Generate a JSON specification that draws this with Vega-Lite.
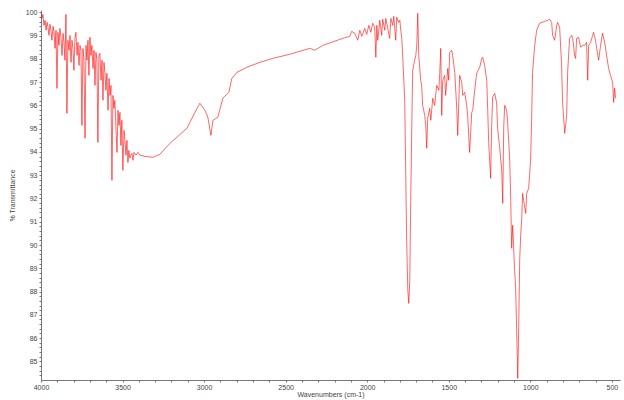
{
  "$schema": "https://vega.github.io/schema/vega-lite/v6.json",
  "autosize": "none",
  "width": 579,
  "height": 370,
  "padding": {"left": 41, "top": 10, "right": 4, "bottom": 20},
  "background": "white",
  "config": {
    "view": {"stroke": null},
    "font": "Liberation Sans",
    "axis": {"grid": false, "domainColor": "#777", "tickColor": "#777", "labelColor": "#444", "titleColor": "#444", "labelFont": "Liberation Sans", "titleFont": "Liberation Sans", "labelFontSize": 7, "titleFontSize": 7, "titleFontWeight": "normal", "tickSize": 2, "labelPadding": 2}
  },
  "data": {"values": [
    {"wn":4000,"t":100.00},{"wn":3994,"t":99.74},{"wn":3988,"t":99.91},{"wn":3982,"t":99.44},{"wn":3975,"t":99.66},{"wn":3969,"t":99.23},{"wn":3963,"t":99.57},{"wn":3957,"t":99.36},{"wn":3951,"t":99.01},{"wn":3945,"t":99.49},{"wn":3939,"t":99.23},{"wn":3933,"t":98.80},{"wn":3926,"t":99.40},{"wn":3920,"t":99.10},{"wn":3914,"t":98.45},{"wn":3908,"t":99.23},{"wn":3902,"t":96.73},{"wn":3896,"t":99.14},{"wn":3890,"t":98.58},{"wn":3884,"t":99.31},{"wn":3877,"t":98.88},{"wn":3871,"t":98.15},{"wn":3865,"t":99.10},{"wn":3859,"t":98.71},{"wn":3853,"t":97.94},{"wn":3847,"t":99.91},{"wn":3841,"t":95.66},{"wn":3835,"t":98.80},{"wn":3828,"t":98.37},{"wn":3822,"t":99.01},{"wn":3816,"t":97.85},{"wn":3810,"t":98.80},{"wn":3804,"t":98.45},{"wn":3798,"t":97.51},{"wn":3792,"t":98.88},{"wn":3786,"t":99.14},{"wn":3779,"t":98.15},{"wn":3773,"t":98.71},{"wn":3767,"t":97.72},{"wn":3761,"t":98.58},{"wn":3755,"t":98.37},{"wn":3749,"t":95.14},{"wn":3743,"t":98.45},{"wn":3737,"t":98.02},{"wn":3730,"t":94.59},{"wn":3724,"t":98.58},{"wn":3718,"t":97.94},{"wn":3712,"t":98.80},{"wn":3706,"t":97.29},{"wn":3700,"t":98.93},{"wn":3694,"t":98.15},{"wn":3688,"t":98.58},{"wn":3681,"t":97.59},{"wn":3675,"t":98.37},{"wn":3669,"t":96.86},{"wn":3663,"t":98.28},{"wn":3657,"t":97.94},{"wn":3651,"t":94.41},{"wn":3645,"t":98.15},{"wn":3639,"t":98.24},{"wn":3632,"t":97.08},{"wn":3626,"t":97.94},{"wn":3620,"t":96.22},{"wn":3614,"t":97.85},{"wn":3608,"t":97.42},{"wn":3602,"t":96.65},{"wn":3596,"t":97.38},{"wn":3589,"t":95.79},{"wn":3583,"t":97.16},{"wn":3577,"t":96.43},{"wn":3571,"t":96.86},{"wn":3565,"t":92.78},{"wn":3559,"t":96.43},{"wn":3553,"t":95.87},{"wn":3547,"t":96.22},{"wn":3540,"t":94.93},{"wn":3534,"t":93.98},{"wn":3528,"t":95.79},{"wn":3522,"t":95.14},{"wn":3516,"t":95.70},{"wn":3510,"t":94.28},{"wn":3504,"t":95.36},{"wn":3498,"t":93.21},{"wn":3491,"t":94.93},{"wn":3485,"t":94.50},{"wn":3479,"t":93.86},{"wn":3473,"t":94.50},{"wn":3467,"t":93.55},{"wn":3461,"t":94.07},{"wn":3455,"t":93.73},{"wn":3449,"t":93.86},{"wn":3442,"t":93.94},{"wn":3436,"t":93.64},{"wn":3430,"t":93.98},{"wn":3418,"t":93.86},{"wn":3406,"t":93.98},{"wn":3393,"t":93.86},
    {"wn":3363,"t":93.81},{"wn":3314,"t":93.77},{"wn":3271,"t":93.90},{"wn":3210,"t":94.37},{"wn":3167,"t":94.63},{"wn":3105,"t":95.02},{"wn":3056,"t":95.70},{"wn":3026,"t":96.09},{"wn":2995,"t":95.79},{"wn":2977,"t":95.49},{"wn":2958,"t":94.71},{"wn":2946,"t":95.36},{"wn":2916,"t":95.49},{"wn":2885,"t":96.31},{"wn":2848,"t":96.56},{"wn":2830,"t":97.16},{"wn":2799,"t":97.42},{"wn":2738,"t":97.64},{"wn":2658,"t":97.85},{"wn":2579,"t":98.02},{"wn":2474,"t":98.20},{"wn":2352,"t":98.45},{"wn":2321,"t":98.37},{"wn":2272,"t":98.58},{"wn":2150,"t":98.88},
    {"wn":2107,"t":98.97},{"wn":2095,"t":99.18},{"wn":2076,"t":99.10},{"wn":2058,"t":98.80},{"wn":2045,"t":99.23},{"wn":2033,"t":98.97},{"wn":2015,"t":99.31},{"wn":2003,"t":99.05},{"wn":1990,"t":99.44},{"wn":1978,"t":99.14},{"wn":1966,"t":99.53},{"wn":1954,"t":99.36},{"wn":1947,"t":98.07},{"wn":1941,"t":99.44},{"wn":1935,"t":98.80},{"wn":1923,"t":99.66},{"wn":1911,"t":99.01},{"wn":1905,"t":99.70},{"wn":1892,"t":99.23},{"wn":1886,"t":99.74},{"wn":1874,"t":99.31},{"wn":1862,"t":98.88},{"wn":1855,"t":99.74},{"wn":1843,"t":99.44},{"wn":1837,"t":99.83},{"wn":1825,"t":98.80},{"wn":1819,"t":99.79},{"wn":1807,"t":99.57},{"wn":1800,"t":99.66},{"wn":1794,"t":99.23},{"wn":1788,"t":98.88},{"wn":1782,"t":98.07},{"wn":1770,"t":96.22},{"wn":1764,"t":93.21},{"wn":1758,"t":90.20},{"wn":1751,"t":88.05},{"wn":1745,"t":87.49},{"wn":1739,"t":88.48},{"wn":1733,"t":91.92},{"wn":1727,"t":94.93},{"wn":1721,"t":97.51},{"wn":1709,"t":97.94},{"wn":1702,"t":98.15},{"wn":1696,"t":98.58},{"wn":1690,"t":99.96},{"wn":1684,"t":98.15},{"wn":1672,"t":97.08},{"wn":1666,"t":96.86},{"wn":1660,"t":96.00},{"wn":1647,"t":95.57},{"wn":1641,"t":95.14},{"wn":1635,"t":94.16},{"wn":1629,"t":95.45},{"wn":1617,"t":95.87},{"wn":1610,"t":95.36},{"wn":1598,"t":96.31},{"wn":1586,"t":96.00},{"wn":1574,"t":96.86},{"wn":1561,"t":96.65},{"wn":1555,"t":97.42},{"wn":1549,"t":98.45},{"wn":1543,"t":95.57},{"wn":1537,"t":97.08},{"wn":1525,"t":97.29},{"wn":1519,"t":96.43},{"wn":1506,"t":97.59},{"wn":1500,"t":97.08},{"wn":1494,"t":98.28},{"wn":1482,"t":98.37},{"wn":1476,"t":98.15},{"wn":1463,"t":97.42},{"wn":1451,"t":95.87},{"wn":1445,"t":94.71},{"wn":1433,"t":97.29},{"wn":1420,"t":96.99},{"wn":1414,"t":96.43},{"wn":1402,"t":96.56},{"wn":1390,"t":96.00},{"wn":1384,"t":95.57},{"wn":1372,"t":93.98},{"wn":1359,"t":95.70},{"wn":1353,"t":95.79},{"wn":1341,"t":96.65},{"wn":1329,"t":97.38},{"wn":1310,"t":97.64},{"wn":1298,"t":98.02},{"wn":1292,"t":98.07},{"wn":1280,"t":97.72},{"wn":1267,"t":97.08},{"wn":1261,"t":95.79},{"wn":1255,"t":94.37},{"wn":1243,"t":92.87},{"wn":1237,"t":95.06},{"wn":1231,"t":96.35},{"wn":1218,"t":96.52},{"wn":1206,"t":96.09},{"wn":1201,"t":95.06},{"wn":1188,"t":94.20},{"wn":1175,"t":93.21},{"wn":1169,"t":91.79},{"wn":1163,"t":95.06},{"wn":1157,"t":96.00},{"wn":1145,"t":95.79},{"wn":1139,"t":95.27},{"wn":1126,"t":93.64},{"wn":1120,"t":91.92},{"wn":1114,"t":89.86},{"wn":1108,"t":90.85},{"wn":1102,"t":89.90},{"wn":1096,"t":88.91},{"wn":1090,"t":88.18},{"wn":1084,"t":86.47},{"wn":1077,"t":84.27},{"wn":1071,"t":86.47},{"wn":1065,"t":89.34},{"wn":1059,"t":90.41},{"wn":1053,"t":91.06},{"wn":1047,"t":92.22},{"wn":1041,"t":91.92},{"wn":1028,"t":91.36},{"wn":1022,"t":92.22},{"wn":1010,"t":92.44},{"wn":998,"t":93.64},{"wn":992,"t":95.36},{"wn":986,"t":97.42},{"wn":973,"t":98.58},{"wn":961,"t":99.23},{"wn":943,"t":99.53},{"wn":912,"t":99.61},{"wn":881,"t":99.70},{"wn":869,"t":99.57},{"wn":863,"t":99.01},{"wn":851,"t":98.80},{"wn":838,"t":99.44},{"wn":832,"t":99.57},{"wn":820,"t":99.36},{"wn":808,"t":97.72},{"wn":802,"t":96.13},{"wn":789,"t":94.80},{"wn":777,"t":95.57},{"wn":771,"t":97.42},{"wn":759,"t":98.88},{"wn":746,"t":99.01},{"wn":740,"t":98.88},{"wn":728,"t":98.15},{"wn":722,"t":98.02},{"wn":716,"t":98.88},{"wn":704,"t":98.93},{"wn":691,"t":98.50},{"wn":679,"t":98.58},{"wn":667,"t":98.58},{"wn":655,"t":98.71},{"wn":648,"t":97.08},{"wn":642,"t":98.58},{"wn":630,"t":98.71},{"wn":618,"t":99.01},{"wn":612,"t":99.14},{"wn":600,"t":98.80},{"wn":593,"t":98.45},{"wn":581,"t":97.94},{"wn":569,"t":98.58},{"wn":557,"t":99.10},{"wn":544,"t":98.71},{"wn":532,"t":98.15},{"wn":520,"t":97.59},{"wn":508,"t":97.29},{"wn":495,"t":96.99},{"wn":489,"t":96.13},{"wn":483,"t":96.74},{"wn":477,"t":96.31}
  ]},
  "mark": {"type": "line", "color": "#ff0000", "strokeWidth": 0.7, "opacity": 0.85, "clip": true},
  "encoding": {
    "x": {"field": "wn", "type": "quantitative", "title": "Wavenumbers (cm-1)",
      "scale": {"domain": [4000, 450], "nice": false, "zero": false},
      "axis": {"values": [4000,3900,3800,3700,3600,3500,3400,3300,3200,3100,3000,2900,2800,2700,2600,2500,2400,2300,2200,2100,2000,1900,1800,1700,1600,1500,1400,1300,1200,1100,1000,900,800,700,600,500],
        "labelExpr": "datum.value % 500 == 0 ? format(datum.value, 'd') : ''", "labelOverlap": false, "labelFlush": false, "labelPadding": 1, "titlePadding": 0}},
    "y": {"field": "t", "type": "quantitative", "title": "% Transmittance",
      "scale": {"domain": [84.2, 100.1], "nice": false, "zero": false},
      "axis": {"values": [84.4,84.6,84.8,85,85.2,85.4,85.6,85.8,86,86.2,86.4,86.6,86.8,87,87.2,87.4,87.6,87.8,88,88.2,88.4,88.6,88.8,89,89.2,89.4,89.6,89.8,90,90.2,90.4,90.6,90.8,91,91.2,91.4,91.6,91.8,92,92.2,92.4,92.6,92.8,93,93.2,93.4,93.6,93.8,94,94.2,94.4,94.6,94.8,95,95.2,95.4,95.6,95.8,96,96.2,96.4,96.6,96.8,97,97.2,97.4,97.6,97.8,98,98.2,98.4,98.6,98.8,99,99.2,99.4,99.6,99.8,100],
        "labelExpr": "abs(datum.value - round(datum.value)) < 0.01 ? format(datum.value, 'd') : ''", "labelOverlap": false, "labelFlush": false, "titlePadding": 10}}
  }
}
